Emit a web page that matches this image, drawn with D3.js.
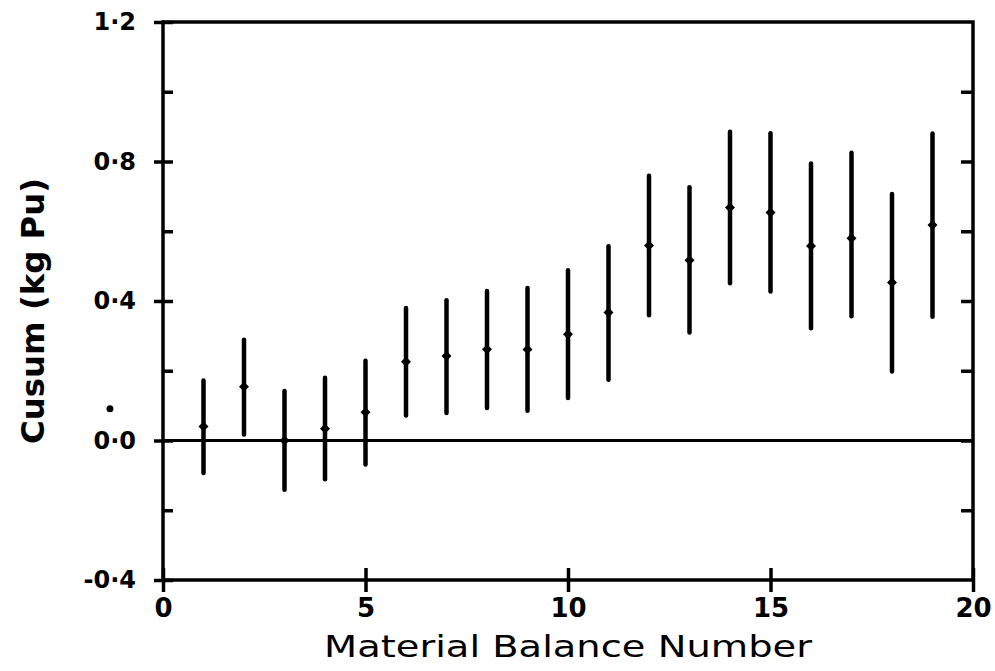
<!DOCTYPE html>
<html lang="en">
<head>
<meta charset="utf-8">
<script src="https://d3js.org/d3.v7.min.js"></script>
<style>
  body { margin: 0; background: #fff; }
  .tick text { font-family: "DejaVu Sans", sans-serif; font-weight: bold; font-size: 24px; fill: #000; }
  .tick line { stroke: #000; stroke-width: 3.5; }
  .domain { display: none; }
  .axis-label { font-family: "DejaVu Sans", sans-serif; fill: #000; }
</style>
</head>
<body>
<svg width="995" height="671"></svg>
<script>
// material balance number and cusum estimate with its upper / lower limits
const balance = [1, 2, 3, 4, 5, 6, 7, 8, 9, 10, 11, 12, 13, 14, 15, 16, 17, 18, 19];
const cusum   = [0.040, 0.154, 0.000, 0.034, 0.081, 0.226, 0.242, 0.262, 0.261, 0.305,
                 0.367, 0.559, 0.517, 0.668, 0.654, 0.558, 0.580, 0.453, 0.618];
const upper   = [0.172, 0.289, 0.142, 0.180, 0.229, 0.380, 0.402, 0.429, 0.437, 0.488,
                 0.557, 0.759, 0.726, 0.885, 0.881, 0.794, 0.825, 0.707, 0.880];
const lower   = [-0.093, 0.017, -0.141, -0.111, -0.069, 0.072, 0.079, 0.093, 0.085, 0.122,
                 0.174, 0.359, 0.310, 0.451, 0.427, 0.322, 0.356, 0.198, 0.355];

// lone dot left of the axis in the original scan
const strayX = [-1.31];
const strayY = [0.091];

const xTicks = [0, 5, 10, 15, 20];
const yMajor = [-0.4, 0.0, 0.4, 0.8, 1.2];
const yMinor = [-0.2, 0.2, 0.6, 1.0];
const yRight = [-0.2, 0.0, 0.2, 0.4, 0.6, 0.8, 1.0];
const fmt = d => d3.format('.1f')(d).replace('.', '\u00b7').replace('\u2212', '-');

const svg = d3.select('svg');
const x = d3.scaleLinear().domain([0, 20]).range([163, 973]);
const y = d3.scaleLinear().domain([-0.4, 1.2]).range([580, 22]);

// frame
svg.append('rect')
  .attr('x', x(0)).attr('y', y(1.2))
  .attr('width', x(20) - x(0)).attr('height', y(-0.4) - y(1.2))
  .attr('fill', 'none').attr('stroke', '#000').attr('stroke-width', 3.5);

// zero line
svg.append('line')
  .attr('x1', x(0)).attr('x2', x(20))
  .attr('y1', y(0)).attr('y2', y(0))
  .attr('stroke', '#000').attr('stroke-width', 3);

// left axis: labelled major ticks crossing the axis, minor ticks inside
svg.append('g').attr('transform', `translate(${x(0)},0)`)
  .call(d3.axisLeft(y).tickValues(yMajor).tickSize(9).tickPadding(18).tickFormat(fmt));
svg.append('g').attr('transform', `translate(${x(0)},0)`)
  .call(d3.axisRight(y).tickValues(yMajor.concat(yMinor)).tickSize(10).tickFormat(''));

// right axis inward ticks
svg.append('g').attr('transform', `translate(${x(20)},0)`)
  .call(d3.axisLeft(y).tickValues(yRight).tickSize(12).tickFormat(''));

// bottom axis
svg.append('g').attr('transform', `translate(0,${y(-0.4)})`)
  .call(d3.axisBottom(x).tickValues(xTicks).tickSize(12).tickPadding(7).tickFormat(d3.format('d')))
  .selectAll('.tick text').style('font-size', '26px');
svg.append('g').attr('transform', `translate(0,${y(-0.4)})`)
  .call(d3.axisTop(x).tickValues(xTicks).tickSize(12).tickFormat(''));

// error bars
const pts = balance.map((b, i) => ({ b, c: cusum[i], hi: upper[i], lo: lower[i] }));
svg.selectAll('line.bar').data(pts).enter().append('line')
  .attr('class', 'bar')
  .attr('x1', d => x(d.b)).attr('x2', d => x(d.b))
  .attr('y1', d => y(d.hi)).attr('y2', d => y(d.lo))
  .attr('stroke', '#000').attr('stroke-width', 4.5).attr('stroke-linecap', 'round');

svg.selectAll('path.pt').data(pts).enter().append('path')
  .attr('class', 'pt')
  .attr('transform', d => `translate(${x(d.b)},${y(d.c)}) rotate(45)`)
  .attr('d', d3.symbol().type(d3.symbolSquare).size(50))
  .attr('fill', '#000');

svg.selectAll('circle.stray').data(strayX).enter().append('circle')
  .attr('class', 'stray')
  .attr('cx', d => x(d)).attr('cy', (d, i) => y(strayY[i]))
  .attr('r', 3.5).attr('fill', '#000');

// axis titles
svg.append('text').attr('class', 'axis-label')
  .attr('x', 568).attr('y', 657)
  .attr('text-anchor', 'middle')
  .attr('textLength', 488).attr('lengthAdjust', 'spacingAndGlyphs')
  .style('font-size', '30px')
  .text('Material Balance Number');

svg.append('text').attr('class', 'axis-label')
  .attr('transform', 'translate(44,311) rotate(-90)')
  .attr('text-anchor', 'middle')
  .attr('textLength', 266).attr('lengthAdjust', 'spacingAndGlyphs')
  .style('font-size', '32px').style('font-weight', 'bold')
  .text('Cusum (kg Pu)');
</script>
</body>
</html>
